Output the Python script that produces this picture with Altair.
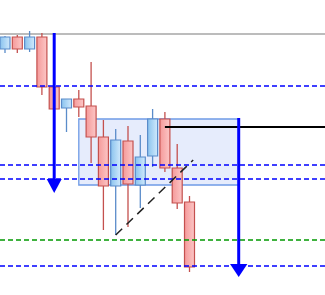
import altair as alt
import pandas as pd

# Candles (index, OHLC)
idx = list(range(16))
opens = [1.1146, 1.1158, 1.1146, 1.1158, 1.1108, 1.1087, 1.1096, 1.1089,
         1.1058, 1.1009, 1.1054, 1.1010, 1.1039, 1.1076, 1.1027, 1.0993]
highs = [1.1159, 1.1160, 1.1164, 1.1162, 1.1109, 1.1096, 1.1105, 1.1133,
         1.1075, 1.1066, 1.1069, 1.1060, 1.1086, 1.1083, 1.1051, 1.0999]
lows = [1.1142, 1.1142, 1.1143, 1.1100, 1.1085, 1.1063, 1.1078, 1.1032,
        1.0965, 1.0960, 1.0968, 1.0987, 1.1028, 1.1023, 1.0986, 1.0923]
closes = [1.1158, 1.1146, 1.1158, 1.1108, 1.1086, 1.1096, 1.1088, 1.1058,
          1.1009, 1.1055, 1.1011, 1.1038, 1.1076, 1.1027, 1.0992, 1.0928]

# Horizontal levels
gray_level = [1.1161]
blue_levels = [1.1109, 1.1030, 1.1016, 1.0929]
green_levels = [1.0955]

# Zone rectangle
zone_x = [6, 19]
zone_y = [1.1076, 1.1010]

# Black horizontal segment
black_x = [13]
black_y = [1.1068]

# Diagonal dashed line
diag_x = [9, 15.3]
diag_y = [1.0960, 1.1035]

# Arrows: x, start price, arrowhead base price, arrowhead center price
arrow_x = [4, 19]
arrow_start = [1.1162, 1.1077]
arrow_base = [1.1016, 1.0931]
arrow_head = [1.1009, 1.09245]

X_DOM = [-0.4065, 26.016]
Y_DOM = [1.0900, 1.1195]

xs = alt.Scale(domain=X_DOM, nice=False, zero=False, padding=0)
ys = alt.Scale(domain=Y_DOM, nice=False, zero=False, padding=0)

df = pd.DataFrame({"i": idx, "open": opens, "high": highs, "low": lows, "close": closes})
df["up"] = df["close"] > df["open"]
up = df[df["up"]]
dn = df[~df["up"]]

RED_STROKE = "#c4504e"
BLUE_STROKE = "#5a8cca"

red_grad = alt.Gradient(gradient="linear", x1=0, x2=1, y1=0, y2=0,
                        stops=[alt.GradientStop(color="#f59a9a", offset=0),
                               alt.GradientStop(color="#fcc6c6", offset=1)])
blue_grad = alt.Gradient(gradient="linear", x1=0, x2=1, y1=0, y2=0,
                         stops=[alt.GradientStop(color="#8ac3ee", offset=0),
                                alt.GradientStop(color="#d0e9fc", offset=1)])

X = lambda f: alt.X(f, type="quantitative", scale=xs, axis=None)
Y = lambda f: alt.Y(f, type="quantitative", scale=ys, axis=None)

zone = alt.Chart(pd.DataFrame({"x": [zone_x[0]], "x2": [zone_x[1]],
                               "y": [zone_y[0]], "y2": [zone_y[1]]})).mark_rect(
    fill="#e6ecfc", stroke="#6f9be6", strokeWidth=1.3
).encode(x=X("x"), x2="x2", y=Y("y"), y2="y2")

wick_up = alt.Chart(up).mark_rule(color=BLUE_STROKE, strokeWidth=1.3).encode(
    x=X("i"), y=Y("low"), y2="high")
wick_dn = alt.Chart(dn).mark_rule(color=RED_STROKE, strokeWidth=1.3).encode(
    x=X("i"), y=Y("low"), y2="high")
body_up = alt.Chart(up).mark_bar(size=10, fill=blue_grad, stroke=BLUE_STROKE,
                                 strokeWidth=1.2).encode(
    x=X("i"), y=Y("open"), y2="close")
body_dn = alt.Chart(dn).mark_bar(size=10, fill=red_grad, stroke=RED_STROKE,
                                 strokeWidth=1.2).encode(
    x=X("i"), y=Y("open"), y2="close")

gray = alt.Chart(pd.DataFrame({"y": gray_level})).mark_rule(
    color="#a6a6a6", strokeWidth=1.5).encode(y=Y("y"))
blues = alt.Chart(pd.DataFrame({"y": blue_levels})).mark_rule(
    color="#0000ff", strokeWidth=1.3, strokeDash=[5, 3]).encode(y=Y("y"))
greens = alt.Chart(pd.DataFrame({"y": green_levels})).mark_rule(
    color="#009900", strokeWidth=1.3, strokeDash=[5, 3]).encode(y=Y("y"))

black = alt.Chart(pd.DataFrame({"x": black_x, "y": black_y})).mark_rule(
    color="black", strokeWidth=2.2).encode(x=X("x"), x2=alt.value(325), y=Y("y"))

diag = alt.Chart(pd.DataFrame({"x": diag_x, "y": diag_y})).mark_line(
    color="#222222", strokeWidth=1.5, strokeDash=[9, 6]).encode(x=X("x"), y=Y("y"))

adf = pd.DataFrame({"x": arrow_x, "y": arrow_start, "y2": arrow_base, "h": arrow_head})
arrow_lines = alt.Chart(adf).mark_rule(color="#0000ff", strokeWidth=3).encode(
    x=X("x"), y=Y("y"), y2="y2")
head1 = alt.Chart(adf.iloc[[0]]).mark_point(
    shape="M-1,-0.92L1,-0.92L0,0.92Z", size=225, filled=True, opacity=1,
    color="#0000ff").encode(x=X("x"), y=Y("h"))
head2 = alt.Chart(adf.iloc[[1]]).mark_point(
    shape="M-1,-0.76L1,-0.76L0,0.76Z", size=300, filled=True, opacity=1,
    color="#0000ff").encode(x=X("x"), y=Y("h"))

chart = alt.layer(
    zone, gray, wick_up, wick_dn, body_up, body_dn, blues, greens,
    diag, black, arrow_lines, head1, head2
).properties(
    width=325, height=295, padding=0, autosize="none", background="white"
).configure_view(strokeWidth=0)

chart.save("out.html", embed_options={"renderer": "svg", "actions": False})
